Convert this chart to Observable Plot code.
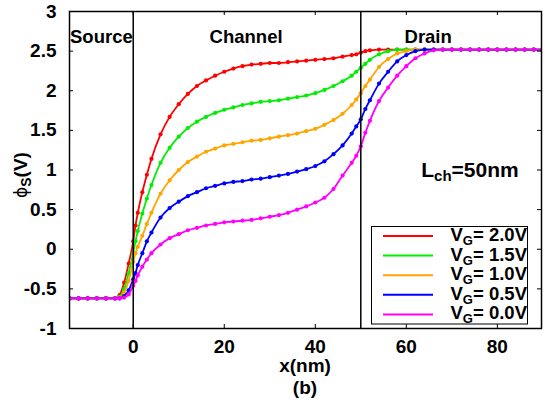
<!DOCTYPE html>
<html><head><meta charset="utf-8">
<script src="https://cdn.jsdelivr.net/npm/d3@7"></script>
<script src="https://cdn.jsdelivr.net/npm/@observablehq/plot@0.6"></script>
<style>
body{margin:0;background:#fff}
svg{font-family:"Liberation Sans",Arial,Helvetica,sans-serif}
</style>
</head><body><div id="chart"></div>
<script>
// ---- data (x in nm, surface potential in V) ----
const xNm = [-14,-12,-10,-8,-6,-4,-3,-2,-1,0,0.5,1,2,3,4,6,8,10,12,14,16,18,20,22,24,26,28,30,32,34,36,38,40,42,44,46,48,49,50,51,52,54,56,58,60,62,64,66,68,70,72,74,76,78,80,82,84,86,88,90];
const vg20 = [-0.62,-0.62,-0.62,-0.62,-0.62,-0.62,-0.58,-0.42,-0.18,0.10,0.30,0.46,0.72,0.94,1.14,1.45,1.67,1.83,1.96,2.06,2.13,2.19,2.24,2.28,2.31,2.33,2.34,2.35,2.35,2.36,2.37,2.38,2.39,2.40,2.41,2.43,2.45,2.46,2.48,2.50,2.51,2.52,2.52,2.52,2.52,2.52,2.52,2.52,2.52,2.52,2.52,2.52,2.52,2.52,2.52,2.52,2.52,2.52,2.52,2.52];
const vg15 = [-0.62,-0.62,-0.62,-0.62,-0.62,-0.62,-0.60,-0.50,-0.30,-0.05,0.10,0.23,0.45,0.64,0.81,1.09,1.28,1.42,1.53,1.61,1.67,1.72,1.76,1.79,1.82,1.84,1.86,1.87,1.88,1.90,1.92,1.94,1.97,2.01,2.06,2.12,2.19,2.24,2.29,2.34,2.39,2.46,2.50,2.52,2.52,2.52,2.52,2.52,2.52,2.52,2.52,2.52,2.52,2.52,2.52,2.52,2.52,2.52,2.52,2.52];
const vg10 = [-0.62,-0.62,-0.62,-0.62,-0.62,-0.62,-0.61,-0.55,-0.40,-0.16,-0.05,0.03,0.17,0.32,0.46,0.70,0.87,1.00,1.10,1.17,1.23,1.27,1.31,1.33,1.35,1.37,1.38,1.40,1.42,1.44,1.46,1.49,1.52,1.57,1.63,1.71,1.82,1.89,1.97,2.06,2.14,2.30,2.40,2.47,2.50,2.52,2.52,2.52,2.52,2.52,2.52,2.52,2.52,2.52,2.52,2.52,2.52,2.52,2.52,2.52];
const vg05 = [-0.62,-0.62,-0.62,-0.62,-0.62,-0.62,-0.62,-0.59,-0.52,-0.38,-0.30,-0.20,-0.05,0.10,0.21,0.40,0.52,0.60,0.67,0.72,0.77,0.80,0.83,0.85,0.86,0.88,0.89,0.91,0.93,0.95,0.98,1.01,1.05,1.11,1.20,1.31,1.46,1.55,1.64,1.77,1.88,2.09,2.24,2.37,2.45,2.50,2.52,2.52,2.52,2.52,2.52,2.52,2.52,2.52,2.52,2.52,2.52,2.52,2.52,2.52];
const vg00 = [-0.62,-0.62,-0.62,-0.62,-0.62,-0.62,-0.62,-0.61,-0.57,-0.46,-0.40,-0.33,-0.22,-0.13,-0.05,0.06,0.14,0.19,0.24,0.27,0.30,0.32,0.34,0.35,0.36,0.37,0.39,0.41,0.43,0.46,0.50,0.54,0.59,0.65,0.76,0.93,1.09,1.18,1.30,1.47,1.62,1.87,2.04,2.19,2.31,2.41,2.47,2.51,2.52,2.52,2.52,2.52,2.52,2.52,2.52,2.52,2.52,2.52,2.52,2.52];

const seriesValues = ["2.0V","1.5V","1.0V","0.5V","0.0V"];
const seriesColors = ["#ff0000","#00ee00","#ffa500","#0000ff","#ff00ff"];
const xTicks = [0,20,40,60,80];
const yTicks = [-1,-0.5,0,0.5,1,1.5,2,2.5,3];
const yTickLabels = ["-1","-0.5","0","0.5","1","1.5","2","2.5","3"];
const boundaries = [0,50];
const regionLabels = ["Source","Channel","Drain"];
const regionX = [-7,24.8,64.8];
const lchLabel = {main:"L", sub:"ch", rest:"=50nm", x:74.1, y:1.0};

// ---- build table ----
const allSeries = [vg20,vg15,vg10,vg05,vg00];
const rows = [];
allSeries.forEach((ys,k)=>ys.forEach((v,i)=>rows.push({x:xNm[i], y:v, s:k})));

const W=545, H=402, mL=69, mR=4, mT=11, mB=74;
const innerW = W-mL-mR, innerH = H-mT-mB;
const FONT = '"Liberation Sans",Arial,Helvetica,sans-serif';

const seriesMarks = [];
allSeries.forEach((_,k)=>{
  const data = rows.filter(d=>d.s===k);
  seriesMarks.push(Plot.line(data,{x:"x",y:"y",stroke:seriesColors[k],strokeWidth:1.8,curve:"monotone-x",clip:true}));
  seriesMarks.push(Plot.dot(data,{x:"x",y:"y",fill:seriesColors[k],r:2.1,clip:true}));
});

const plot = Plot.plot({
  width:W, height:H, marginLeft:mL, marginRight:mR, marginTop:mT, marginBottom:mB,
  x:{domain:[-14,89.7]},
  y:{domain:[-1,3]},
  style:{fontFamily:FONT, background:"white", color:"black", overflow:"visible"},
  marks:[
    ...seriesMarks,
    Plot.ruleX(boundaries,{x:d=>d,stroke:"black",strokeWidth:1.5}),
    Plot.axisX(xTicks,{tickSize:0,tickPadding:11,fontSize:19,fontWeight:"bold",label:null,tickFormat:d=>String(d)}),
    Plot.axisY(yTicks,{tickSize:0,tickPadding:13,fontSize:19,fontWeight:"bold",label:null,tickFormat:d=>yTickLabels[yTicks.indexOf(d)]}),
    Plot.tickX(xTicks,{x:d=>d,insetTop:innerH-4,stroke:"black",strokeWidth:1}),
    Plot.tickX(xTicks,{x:d=>d,insetBottom:innerH-4,stroke:"black",strokeWidth:1}),
    Plot.tickY(yTicks,{y:d=>d,insetRight:innerW-4,stroke:"black",strokeWidth:1}),
    Plot.tickY(yTicks,{y:d=>d,insetLeft:innerW-4,stroke:"black",strokeWidth:1}),
    Plot.text(regionLabels,{x:(d,i)=>regionX[i],text:d=>d,frameAnchor:"top",dy:18,fontSize:18.5,fontWeight:"bold",fill:"black"}),
    Plot.frame({stroke:"black",strokeWidth:1.5})
  ]
});
document.getElementById("chart").appendChild(plot);

const svg = d3.select(plot);
const sx = plot.scale("x"), sy = plot.scale("y");

// L_ch annotation
const lt = svg.append("text").attr("x",sx.apply(lchLabel.x)).attr("y",sy.apply(lchLabel.y)+7.5)
  .attr("text-anchor","middle").attr("font-weight","bold").attr("font-size",21).attr("fill","black");
lt.append("tspan").text(lchLabel.main);
lt.append("tspan").attr("font-size",15).attr("dy",4).text(lchLabel.sub);
lt.append("tspan").attr("dy",-4).text(lchLabel.rest);

// y axis label
const yl = svg.append("text").attr("transform",`translate(27,175) rotate(-90)`)
  .attr("text-anchor","middle").attr("font-size",19).attr("font-weight","bold").attr("fill","black");
yl.append("tspan").attr("font-weight","normal").attr("font-family","DejaVu Sans").attr("font-size",17).text("ϕ");
yl.append("tspan").attr("font-size",14).attr("dy",4).text("S");
yl.append("tspan").attr("dy",-4).text("(V)");

// x axis label
const cx = (mL + W - mR)/2;
svg.append("text").attr("x",cx).attr("y",372).attr("text-anchor","middle")
  .attr("font-size",19).attr("font-weight","bold").attr("fill","black").text("x(nm)");
svg.append("text").attr("x",cx).attr("y",394).attr("text-anchor","middle")
  .attr("font-size",19).attr("font-weight","bold").attr("fill","black").text("(b)");

// legend
const lg = svg.append("g");
lg.append("rect").attr("x",371.5).attr("y",226.5).attr("width",156).attr("height",97.5)
  .attr("fill","white").attr("stroke","black").attr("stroke-width",1);
seriesValues.forEach((v,k)=>{
  const yy = 236 + k*19.6;
  lg.append("line").attr("x1",383).attr("x2",433).attr("y1",yy).attr("y2",yy)
    .attr("stroke",seriesColors[k]).attr("stroke-width",2);
  const t = lg.append("text").attr("x",527).attr("y",yy+5).attr("text-anchor","end")
    .attr("font-size",18.5).attr("font-weight","bold").attr("fill","black");
  t.append("tspan").text("V");
  t.append("tspan").attr("font-size",13).attr("dy",4).text("G");
  t.append("tspan").attr("dy",-4).text("= " + v);
});
</script>
</body></html>
